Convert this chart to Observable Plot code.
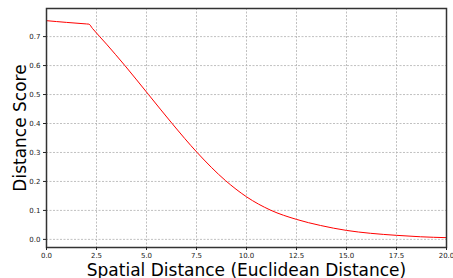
<!DOCTYPE html>
<html>
<head>
<meta charset="utf-8">
<script src="https://cdn.jsdelivr.net/npm/d3@7"></script>
<script src="https://cdn.jsdelivr.net/npm/@observablehq/plot@0.6"></script>
<style>
  html, body { margin: 0; padding: 0; background: #fff; }
  svg { font-family: "DejaVu Sans", sans-serif; }
</style>
</head>
<body>
<div id="chart"></div>
<script>
const distance = [0, 1.0, 2.0, 2.12, 2.3, 3.0, 3.92, 5.1, 6.28, 7.53, 8.95, 10.0, 11.2, 12.5, 13.7, 15.0, 16.2, 17.5, 18.7, 20.0];
const score    = [0.755, 0.749, 0.7437, 0.743, 0.728, 0.674, 0.60, 0.50, 0.40, 0.30, 0.203, 0.147, 0.101, 0.069, 0.048, 0.031, 0.021, 0.014, 0.009, 0.006];
const xTicks = [0, 2.5, 5, 7.5, 10, 12.5, 15, 17.5, 20];
const yTicks = [0, 0.1, 0.2, 0.3, 0.4, 0.5, 0.6, 0.7];
const xLabel = "Spatial Distance (Euclidean Distance)";
const yLabel = "Distance Score";

const data = distance.map((d, i) => ({d, s: score[i]}));

const chart = Plot.plot({
  width: 453,
  height: 278,
  marginLeft: 46,
  marginRight: 7,
  marginTop: 8,
  marginBottom: 31,
  style: {fontFamily: "DejaVu Sans, sans-serif", background: "#fff"},
  x: {domain: [0, 20]},
  y: {domain: [-0.028, 0.797]},
  marks: [
    Plot.ruleX(xTicks, {stroke: "#b0b0b0", strokeDasharray: "2,1.5", strokeWidth: 0.8}),
    Plot.ruleY(yTicks, {stroke: "#b0b0b0", strokeDasharray: "2,1.5", strokeWidth: 0.8}),
    Plot.line(data, {x: "d", y: "s", stroke: "red", strokeWidth: 1, curve: "monotone-x"}),
    Plot.frame({stroke: "#333", strokeWidth: 1.5}),
    Plot.axisX({ticks: xTicks, tickFormat: d => d.toFixed(1), fontSize: 7, tickSize: 3, tickPadding: 3, label: null, color: "#222"}),
    Plot.axisY({ticks: yTicks, tickFormat: d => d.toFixed(1), fontSize: 7, tickSize: 3, tickPadding: 3, label: null, color: "#222"}),
    Plot.text([xLabel], {frameAnchor: "bottom", dy: 28, lineAnchor: "bottom", textAnchor: "middle", text: d => d, fontSize: 17, fill: "#000"}),
    Plot.text([yLabel], {frameAnchor: "left", dx: -26, rotate: -90, textAnchor: "middle", text: d => d, fontSize: 17, fill: "#000"})
  ]
});
document.getElementById("chart").appendChild(chart);
</script>
</body>
</html>
